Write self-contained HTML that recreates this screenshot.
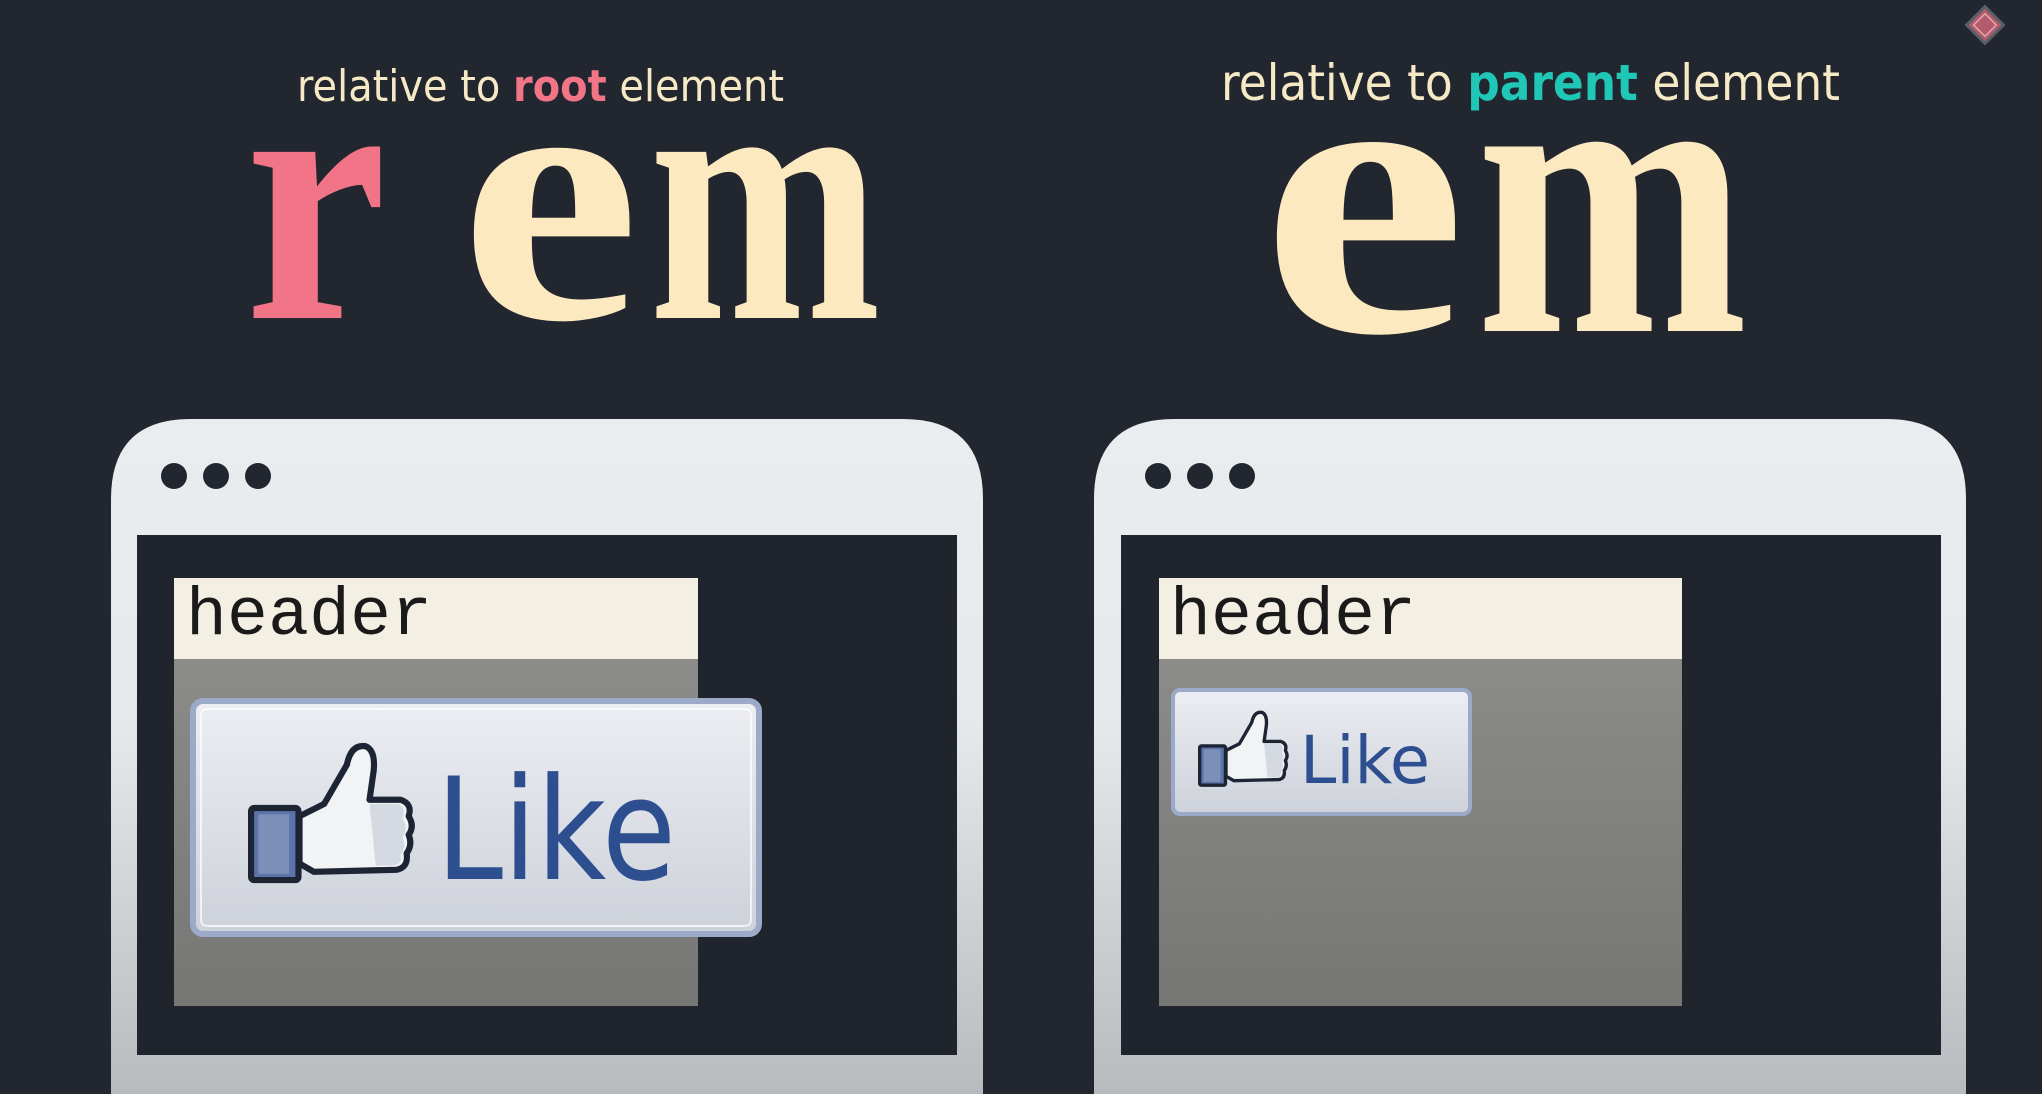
<!DOCTYPE html>
<html><head><meta charset="utf-8"><style>
html,body{margin:0;padding:0;background:#22272f;}
svg{display:block}
.mono{font-family:"Liberation Mono","Courier New",monospace;}
.big{font-family:"Liberation Serif",serif;font-weight:bold;}
</style></head><body>
<svg width="2042" height="1094" viewBox="0 0 2042 1094" xmlns="http://www.w3.org/2000/svg">
<defs>
<linearGradient id="win" x1="0" y1="0" x2="0" y2="1"><stop offset="0" stop-color="#eaedf0"/><stop offset="0.45" stop-color="#e6e9ec"/><stop offset="1" stop-color="#b7bbbe"/></linearGradient>
<linearGradient id="gray" x1="0" y1="0" x2="0" y2="1"><stop offset="0" stop-color="#8b8b89"/><stop offset="1" stop-color="#767674"/></linearGradient>
<linearGradient id="btn" x1="0" y1="0" x2="0" y2="1"><stop offset="0" stop-color="#eceef3"/><stop offset="1" stop-color="#cdd1d9"/></linearGradient>
<g id="thumb">
<rect x="3" y="66" width="46" height="70" rx="3" fill="#5c74aa" stroke="#1d2433" stroke-width="6"/>
<rect x="10" y="72" width="30" height="58" fill="#7b8fb8"/>
<path d="M50 74 L74 62 L96 24 Q100 4 114 6 Q124 10 122 30 L118 58 L148 58 Q160 62 156 74 Q162 84 156 92 Q160 102 154 110 Q156 124 144 126 L64 128 L50 120 Z" fill="#f2f3f5" stroke="#1d2433" stroke-width="6" stroke-linejoin="round"/>
<path d="M118 62 L146 62 Q154 66 150 76 Q156 86 150 94 Q154 104 148 112 Q150 120 142 122 L124 122 Z" fill="#d5d9e2"/>
</g>
</defs>
<rect width="2042" height="1094" fill="#22272f"/>

<rect x="1972" y="12" width="26" height="26" transform="rotate(45 1985 25)" fill="#b35a6c" stroke="#5a6068" stroke-width="3"/>
<rect x="1977" y="17" width="16" height="16" transform="rotate(45 1985 25)" fill="none" stroke="#e2a6b0" stroke-width="1.5"/>

<text x="297" y="101" font-family="DejaVu Sans, sans-serif" font-size="44" fill="#f6e9c6" textLength="487" lengthAdjust="spacingAndGlyphs">relative to <tspan fill="#f17487" font-weight="bold">root</tspan> element</text>
<text class="big" x="245" y="318" font-size="362" fill="#f17487" textLength="142" lengthAdjust="spacingAndGlyphs">r</text>
<text class="big" x="460" y="318" font-size="362" fill="#fde9c0" textLength="180" lengthAdjust="spacingAndGlyphs">e</text>
<text class="big" x="649" y="318" font-size="362" fill="#fde9c0" textLength="232" lengthAdjust="spacingAndGlyphs">m</text>

<text x="1221" y="100" font-family="DejaVu Sans, sans-serif" font-size="50" fill="#f6e9c6" textLength="619" lengthAdjust="spacingAndGlyphs">relative to <tspan fill="#20c6b6" font-weight="bold">parent</tspan> element</text>
<text class="big" x="1261" y="331" font-size="402" fill="#fde9c0" textLength="206" lengthAdjust="spacingAndGlyphs">e</text>
<text class="big" x="1476" y="331" font-size="402" fill="#fde9c0" textLength="272" lengthAdjust="spacingAndGlyphs">m</text>

<path d="M111 1094 L111 499 Q111 419 191 419 L903 419 Q983 419 983 499 L983 1094 Z" fill="url(#win)"/>
<circle cx="174" cy="476" r="13" fill="#22272f"/><circle cx="216" cy="476" r="13" fill="#22272f"/><circle cx="258" cy="476" r="13" fill="#22272f"/>
<rect x="137" y="535" width="820" height="520" fill="#20242c"/>
<rect x="174" y="578" width="524" height="81" fill="#f4efe3"/>
<rect x="174" y="659" width="524" height="347" fill="url(#gray)"/>
<text class="mono" x="186" y="634" font-size="68" fill="#1a1a1a" textLength="246">header</text>
<rect x="193" y="701" width="566" height="233" rx="10" fill="url(#btn)" stroke="#9aaac8" stroke-width="6"/>
<rect x="201" y="709" width="550" height="217" rx="6" fill="none" stroke="#ffffff" stroke-opacity="0.7" stroke-width="2"/>
<use href="#thumb" transform="translate(248 740) scale(1.03)"/>
<text x="436" y="879" font-family="DejaVu Sans, sans-serif" font-size="142" fill="#2d4f90" textLength="240" lengthAdjust="spacingAndGlyphs">Like</text>

<path d="M1094 1094 L1094 499 Q1094 419 1174 419 L1886 419 Q1966 419 1966 499 L1966 1094 Z" fill="url(#win)"/>
<circle cx="1158" cy="476" r="13" fill="#22272f"/><circle cx="1200" cy="476" r="13" fill="#22272f"/><circle cx="1242" cy="476" r="13" fill="#22272f"/>
<rect x="1121" y="535" width="820" height="520" fill="#20242c"/>
<rect x="1159" y="578" width="523" height="81" fill="#f4efe3"/>
<rect x="1159" y="659" width="523" height="347" fill="url(#gray)"/>
<text class="mono" x="1170" y="634" font-size="68" fill="#1a1a1a" textLength="246">header</text>
<rect x="1173" y="690" width="297" height="124" rx="7" fill="url(#btn)" stroke="#9aaac8" stroke-width="4"/>
<use href="#thumb" transform="translate(1198 709) scale(0.56)"/>
<text x="1300" y="783" font-family="DejaVu Sans, sans-serif" font-size="66" fill="#2d4f90" textLength="130" lengthAdjust="spacingAndGlyphs">Like</text>
</svg>
</body></html>
